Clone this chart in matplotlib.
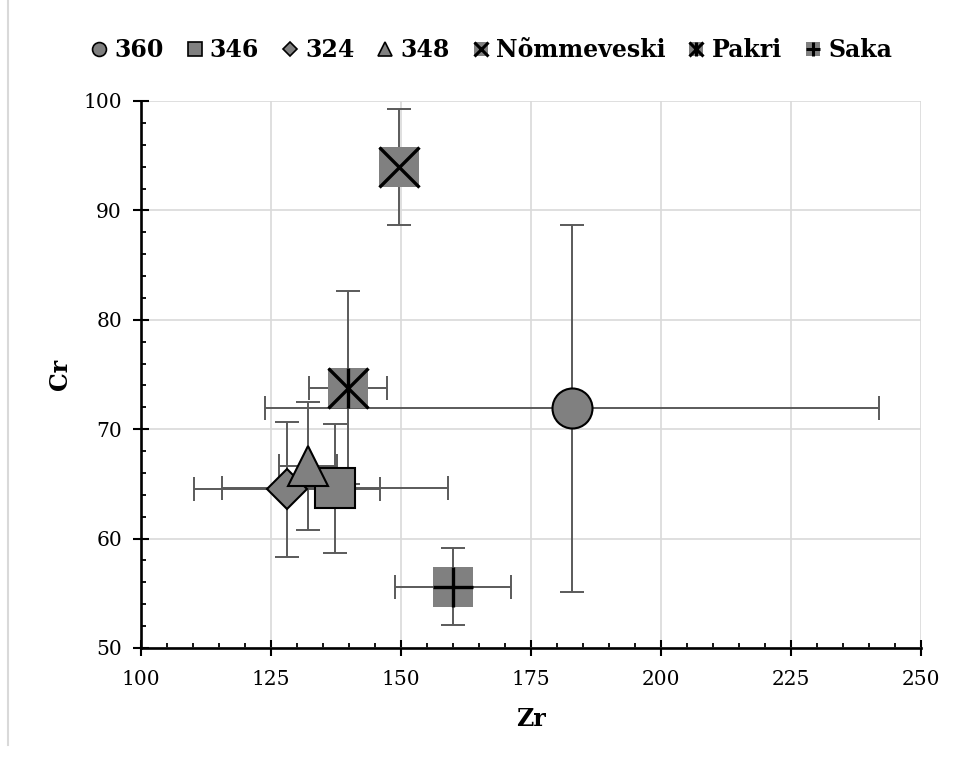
import matplotlib
matplotlib.use("Agg")
import matplotlib.pyplot as plt
from matplotlib.lines import Line2D
from matplotlib.legend_handler import HandlerTuple
from matplotlib.ticker import MultipleLocator

# ---- data ----
names = ['360', '346', '324', '348', 'Nõmmeveski', 'Pakri', 'Saka']
zr = [182.9, 137.3, 128.1, 132.1, 149.6, 139.8, 160.0]
cr = [71.9, 64.6, 64.5, 66.6, 94.0, 73.8, 55.6]
zr_err = [59.0, 21.7, 17.9, 5.6, 3.0, 7.5, 11.2]
cr_err = [16.8, 5.9, 6.2, 5.85, 5.3, 8.8, 3.5]
x_ticks = [100, 125, 150, 175, 200, 225, 250]
y_ticks = [50, 60, 70, 80, 90, 100]

# ---- style ----
plt.rcParams['font.family'] = ['DejaVu Serif']
FILL = '#808080'
ERR = '#5a5a5a'
GRID = '#d9d9d9'
MS = 28.8  # marker size in points (~40 px)

# marker spec: (base marker, base ms, base has edge, overlay markers)
styles = [
    ('o', MS, True, []),
    ('s', MS, True, []),
    ('D', MS / 1.414, True, []),
    ('^', MS, True, []),
    ('s', MS, False, ['x']),
    ('s', MS, False, ['x', '|']),
    ('s', MS, False, ['+']),
]

fig = plt.figure(figsize=(9.59, 7.61), dpi=100)
ax = fig.add_axes([0.147, 0.1485, 0.8134, 0.7188])

ax.set_xlim(100, 250)
ax.set_ylim(50, 100)
ax.set_xticks(x_ticks)
ax.set_yticks(y_ticks)
ax.xaxis.set_minor_locator(MultipleLocator(5))
ax.yaxis.set_minor_locator(MultipleLocator(2))
ax.grid(True, which='major', color=GRID, linewidth=1.2, zorder=0)
ax.set_axisbelow(True)

for s in ['top', 'right']:
    ax.spines[s].set_visible(False)
for s in ['left', 'bottom']:
    ax.spines[s].set_linewidth(1.9)
    ax.spines[s].set_color('black')

ax.tick_params(which='major', direction='inout', length=11.5, width=1.5,
               labelsize=14.5)
ax.tick_params(axis='x', which='major', pad=10)
ax.tick_params(axis='y', which='major', pad=8)
ax.tick_params(which='minor', direction='in', length=3.8, width=1.3)

# error bars (behind all markers)
for i in range(len(names)):
    ax.errorbar(zr[i], cr[i], xerr=zr_err[i], yerr=cr_err[i], fmt='none',
                ecolor=ERR, elinewidth=1.4, capsize=8.6, capthick=1.4,
                zorder=2)

handles = []
for i, name in enumerate(names):
    m, ms, edge, overlays = styles[i]
    ax.plot([zr[i]], [cr[i]], linestyle='none', marker=m, markersize=ms,
            markerfacecolor=FILL,
            markeredgecolor='black' if edge else FILL,
            markeredgewidth=1.5 if edge else 0.0, zorder=3 + i)
    for ov in overlays:
        ax.plot([zr[i]], [cr[i]], linestyle='none', marker=ov, markersize=MS,
                markeredgecolor='black', markeredgewidth=2.4, zorder=3 + i)
    # legend handle
    lms = 10 if m != 'D' else 10 / 1.414
    base = Line2D([], [], linestyle='none', marker=m, markersize=lms,
                  markerfacecolor=FILL,
                  markeredgecolor='black' if edge else FILL,
                  markeredgewidth=1.2 if edge else 0.0)
    if overlays:
        parts = [base] + [Line2D([], [], linestyle='none', marker=ov,
                                 markersize=10, markeredgecolor='black',
                                 markeredgewidth=2.2) for ov in overlays]
        handles.append(tuple(parts))
    else:
        handles.append(base)

fig.legend(handles, names, loc='center', bbox_to_anchor=(0.513, 0.934),
           ncol=7, frameon=False, handler_map={tuple: HandlerTuple(ndivide=1)},
           prop={'weight': 'bold', 'size': 17}, handlelength=0.6,
           handletextpad=0.35, columnspacing=1.0, borderaxespad=0)

ax.set_xlabel('Zr', fontsize=17, fontweight='bold', labelpad=13)
ax.set_ylabel('Cr', fontsize=17, fontweight='bold', labelpad=8)

# faint chart frame line at left
fig.add_artist(Line2D([8 / 959, 8 / 959], [1.0, 1 - 745 / 761],
                      transform=fig.transFigure, color=GRID, linewidth=1.5))

fig.savefig('out.png', dpi=100)
